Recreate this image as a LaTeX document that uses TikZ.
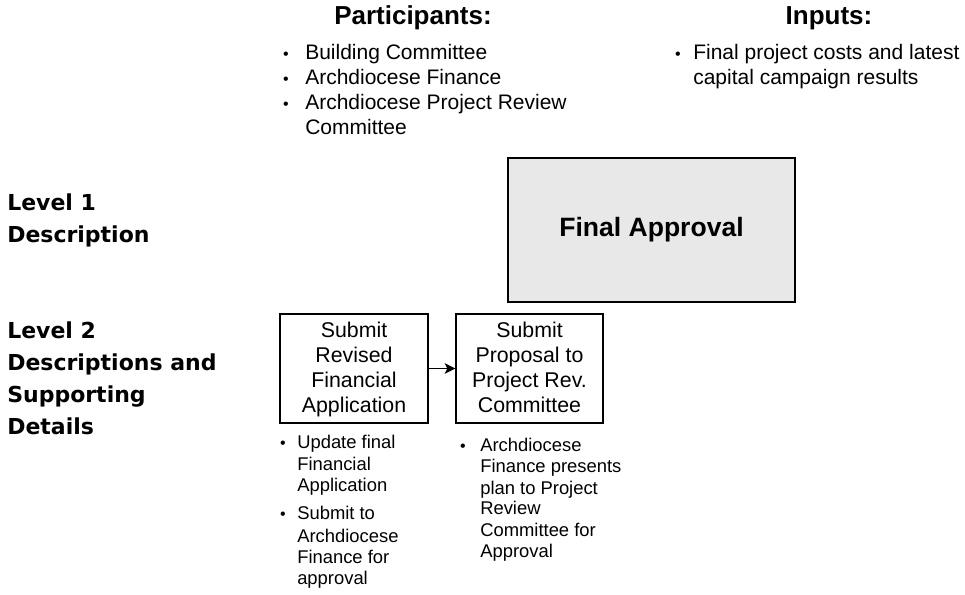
\documentclass[tikz,border=0pt]{standalone}
\usepackage{fontspec}
\setmainfont{Liberation Sans}
\newfontfamily\lvlfont{DejaVu Sans}
\usetikzlibrary{arrows.meta}
\definecolor{boxgray}{RGB}{232,232,232}
\begin{document}
\begin{tikzpicture}[>={Stealth[length=8pt,width=8pt,inset=2pt]}, x=0.75pt, y=-0.75pt,
  head/.style={font=\fontsize{19.5}{22}\selectfont\bfseries, anchor=base, inner sep=0},
  txt/.style={font=\fontsize{15.75}{19}\selectfont, anchor=base west, inner sep=0},
  note/.style={font=\fontsize{13.8}{16}\selectfont, anchor=base west, inner sep=0},
  dot/.style={font=\fontsize{12}{14}\selectfont, anchor=base, inner sep=0},
  lvl/.style={font=\lvlfont\bfseries\fontsize{16.5}{20}\selectfont, anchor=base west, inner sep=0},
  box/.style={draw, line width=1pt, align=center, inner sep=0, font=\fontsize{16}{18.75}\selectfont}]
\useasboundingbox (0,0) rectangle (965,595);
% headings
\node[head] (part) at (413,25) {Participants:};
\node[head] (inp) at (829,25) {Inputs:};
\foreach \t [count=\i from 0] in {Building Committee, Archdiocese Finance, Archdiocese Project Review, Committee}
  \node[txt] (part\i) at (305,60+25*\i) {\t};
\foreach \i in {0,1,2} \node[dot] (pdot\i) at (286,60+25*\i) {•};
\node[dot] (idot) at (678,60) {•};
\node[txt] (inp0) at (693,60) {Final project costs and latest};
\node[txt] (inp1) at (693,85) {capital campaign results};
% levels
\node[lvl] (lev1a) at (7,211) {Level 1};
\node[lvl] (lev1b) at (7,243) {Description};
\foreach \t [count=\i from 0] in {Level 2, Descriptions and, Supporting, Details}
  \node[lvl] (lev2\i) at (7,339+32*\i) {\t};
% boxes
\node[box, fill=boxgray, minimum width=215.25pt, minimum height=108pt,
  font=\fontsize{19.9}{22}\selectfont\bfseries] (final) at (651.5,230) {Final Approval};
\node[box, minimum width=111pt, minimum height=81.75pt] (sub1) at (354,368.5)
  {\rule{0pt}{16pt}Submit\\Revised\\Financial\\Application\strut};
\node[box, minimum width=110.25pt, minimum height=81.75pt] (sub2) at (529.5,368.5)
  {\rule{0pt}{16pt}Submit\\Proposal to\\Project Rev.\\Committee\strut};
\draw[->, line width=1.3pt] (sub1) -- (sub2);
% details
\foreach \y/\t [count=\i] in {449/Update final, 470/Financial, 492/Application, 520/Submit to,
  542/Archdiocese, 563/Finance for, 585/approval}
  \node[note] (na\i) at (297,\y) {\t};
\foreach \y [count=\i] in {449,520} \node[dot] (nadot\i) at (283,\y) {•};
\foreach \y/\t [count=\i] in {452/Archdiocese, 473/Finance presents, 495/plan to Project,
  515/Review, 537/Committee for, 557/Approval}
  \node[note] (nb\i) at (480,\y) {\t};
\node[dot] (nbdot) at (463,452) {•};
\end{tikzpicture}
\end{document}
